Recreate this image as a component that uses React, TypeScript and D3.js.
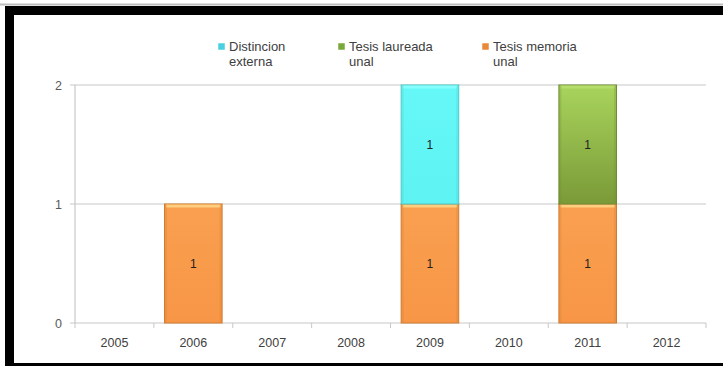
import React from "react";
import * as d3 from "d3";

const years = ["2005", "2006", "2007", "2008", "2009", "2010", "2011", "2012"];
const seriesKeys = ["memoria", "distincion", "laureada"];
const seriesNames = ["Tesis memoria unal", "Distincion externa", "Tesis laureada unal"];
const memoria = [0, 1, 0, 0, 1, 0, 1, 0];
const distincion = [0, 0, 0, 0, 1, 0, 0, 0];
const laureada = [0, 0, 0, 0, 0, 0, 1, 0];
const yTicks = [0, 1, 2];

const legendItems = [
  { key: "distincion", lines: ["Distincion", "externa"] },
  { key: "laureada", lines: ["Tesis laureada", "unal"] },
  { key: "memoria", lines: ["Tesis memoria", "unal"] },
];

const W = 723;
const H = 366;
const plotLeft = 75;
const plotRight = 706;
const plotTop = 85;
const plotBottom = 323;
const FONT = "'Liberation Sans', Arial, sans-serif";

const colors: Record<string, { top: string; bottom: string; stroke: string; hl: string; legend: string }> = {
  memoria: { top: "#F9A050", bottom: "#F79646", stroke: "#D07A30", hl: "#FFD888", legend: "#E8893A" },
  distincion: { top: "#66F8F8", bottom: "#5EF2F2", stroke: "#4CC8C8", hl: "#8FFFFF", legend: "#4BD0E0" },
  laureada: { top: "#A8D45C", bottom: "#7A9A38", stroke: "#6E8A34", hl: "#B8E070", legend: "#7AA83A" },
};

export default function App() {
  const table = years.map((yr, i) => ({
    year: yr,
    memoria: memoria[i],
    distincion: distincion[i],
    laureada: laureada[i],
  }));
  const stacked = d3.stack<any>().keys(seriesKeys)(table);

  const x = d3
    .scaleBand<string>()
    .domain(years)
    .range([plotLeft, plotRight])
    .paddingInner(0.27)
    .paddingOuter(0.135);
  const y = d3.scaleLinear().domain([0, 2]).range([plotBottom, plotTop]);
  const step = x.step();

  return (
    <svg
      width={W}
      height={H}
      style={{ position: "absolute", left: 0, top: 0, background: "#fff" }}
      fontFamily={FONT}
    >
      <defs>
        {seriesKeys.map((k) => (
          <linearGradient key={k} id={"g-" + k} x1="0" y1="0" x2="0" y2="1">
            <stop offset="0" stopColor={colors[k].top} />
            <stop offset="1" stopColor={colors[k].bottom} />
          </linearGradient>
        ))}
      </defs>
      {/* frame */}
      <rect x={0} y={3.5} width={W} height={2} fill="#bdbdbd" />
      <rect x={5} y={6} width={W - 5} height={9} fill="#000" />
      <rect x={5} y={6} width={9} height={H - 6} fill="#000" />
      <rect x={5} y={363} width={W - 5} height={3} fill="#000" />

      {/* gridlines */}
      {yTicks.map((t) => (
        <g key={t}>
          <line x1={plotLeft - 5} x2={plotRight} y1={y(t)} y2={y(t)} stroke="#C8C8C8" strokeWidth={1.2} />
          <text x={62} y={y(t) + 4.5} textAnchor="end" fontSize={12.5} fill="#595959">
            {t}
          </text>
        </g>
      ))}
      {/* y axis */}
      <line x1={plotLeft} x2={plotLeft} y1={plotTop} y2={plotBottom} stroke="#C8C8C8" strokeWidth={1.2} />
      {/* x ticks */}
      {years.map((yr, i) => (
        <line
          key={"t" + yr}
          x1={plotLeft + step * (i + 1)}
          x2={plotLeft + step * (i + 1)}
          y1={plotBottom}
          y2={plotBottom + 5}
          stroke="#C8C8C8"
          strokeWidth={1}
        />
      ))}
      <line x1={plotLeft} x2={plotLeft} y1={plotBottom} y2={plotBottom + 5} stroke="#C8C8C8" />
      {years.map((yr) => (
        <text
          key={"l" + yr}
          x={(x(yr) as number) + x.bandwidth() / 2}
          y={347}
          textAnchor="middle"
          fontSize={12.5}
          fill="#404040"
        >
          {yr}
        </text>
      ))}

      {/* bars */}
      {stacked.map((s) =>
        s.map((d: any, i: number) => {
          const v = d[1] - d[0];
          if (v <= 0) return null;
          const bx = x(years[i]) as number;
          const bw = x.bandwidth();
          const y0 = y(d[0]);
          const y1 = y(d[1]);
          const c = colors[s.key];
          return (
            <g key={s.key + i}>
              <rect x={bx} y={y1} width={bw} height={y0 - y1} fill={`url(#g-${s.key})`} stroke={c.stroke} strokeWidth={1} />
              <rect x={bx + 1.5} y={y1 + 0.5} width={bw - 3} height={3} fill={c.hl} opacity={0.8} />
              <rect x={bx + 0.5} y={y1 + 1} width={2} height={y0 - y1 - 2} fill={c.stroke} opacity={0.25} />
              <rect x={bx + bw - 2.5} y={y1 + 1} width={2} height={y0 - y1 - 2} fill={c.stroke} opacity={0.25} />
              <text
                x={bx + bw / 2}
                y={(y0 + y1) / 2 + 4}
                textAnchor="middle"
                fontSize={12}
                fill="#222"
              >
                {v}
              </text>
            </g>
          );
        })
      )}

      {/* legend */}
      {legendItems.map((it, i) => {
        const lx = [218, 338, 482][i];
        return (
          <g key={it.key}>
            <rect x={lx} y={43} width={7} height={7} fill={colors[it.key].legend} stroke="#fff" strokeWidth={0.5} />
            {it.lines.map((ln, j) => (
              <text key={j} x={lx + 11} y={51 + j * 15} fontSize={13} fill="#404040">
                {ln}
              </text>
            ))}
          </g>
        );
      })}
    </svg>
  );
}
